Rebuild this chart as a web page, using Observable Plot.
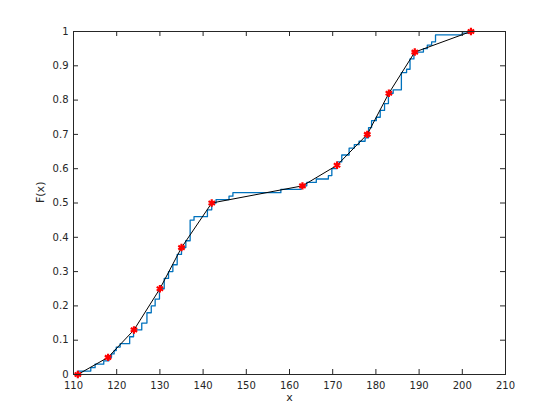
<!DOCTYPE html>
<html>
<head>
<meta charset="utf-8">
<script src="https://cdn.jsdelivr.net/npm/d3@7"></script>
<script src="https://cdn.jsdelivr.net/npm/@observablehq/plot@0.6"></script>
<style>
  html, body { margin: 0; padding: 0; background: #fff; }
  #chart { width: 560px; height: 420px; }
</style>
</head>
<body>
<div id="chart"></div>
<script>
// Empirical CDF (blue stairs): jump locations and levels
const ecdfX = [111, 111, 114, 115, 117, 118.2, 118.8, 119.4, 119.9, 120.8, 123, 123.9, 125.8, 127, 128, 128.9, 129.9, 131, 132, 133, 134, 135, 136, 137, 137.9, 141, 142, 143, 146, 146.9, 158, 162.7, 164, 166.2, 169, 169.8, 171, 172.1, 173.8, 175, 176.1, 177.5, 178.3, 179, 180.1, 181, 182, 182.9, 184, 185.9, 187.1, 187.9, 188.8, 191, 191.9, 192.9, 193.8, 200, 202];
const ecdfF = [0, 0.01, 0.02, 0.03, 0.04, 0.05, 0.06, 0.07, 0.08, 0.09, 0.11, 0.13, 0.15, 0.18, 0.20, 0.22, 0.25, 0.28, 0.30, 0.32, 0.35, 0.37, 0.39, 0.45, 0.46, 0.48, 0.50, 0.51, 0.52, 0.53, 0.54, 0.55, 0.56, 0.57, 0.58, 0.60, 0.62, 0.64, 0.66, 0.67, 0.68, 0.69, 0.72, 0.74, 0.75, 0.77, 0.79, 0.82, 0.83, 0.88, 0.89, 0.92, 0.94, 0.95, 0.96, 0.97, 0.99, 0.995, 1.0];

// Piecewise linear approximation knots (black line + red markers)
const knotX = [111, 118, 124, 130, 135, 142, 163, 171, 178, 183, 189, 202];
const knotF = [0, 0.05, 0.13, 0.25, 0.37, 0.50, 0.55, 0.61, 0.70, 0.82, 0.94, 1.0];

// Axes ticks
const xTicks = [110, 120, 130, 140, 150, 160, 170, 180, 190, 200, 210];
const yTicks = [0, 0.1, 0.2, 0.3, 0.4, 0.5, 0.6, 0.7, 0.8, 0.9, 1];
const yTickLabels = ["0", "0.1", "0.2", "0.3", "0.4", "0.5", "0.6", "0.7", "0.8", "0.9", "1"];
const xLabel = "x";
const yLabel = "F(x)";

const ecdf = ecdfX.map((x, i) => ({x, F: ecdfF[i]}));
const knots = knotX.map((x, i) => ({x, F: knotF[i]}));

const W = 560, H = 420;
const mL = 73, mR = 55, mT = 31, mB = 46;
const pw = W - mL - mR, ph = H - mT - mB;
const axisColor = "#262626";
const tickLen = 5;

const chart = Plot.plot({
  width: W,
  height: H,
  marginLeft: mL,
  marginRight: mR,
  marginTop: mT,
  marginBottom: mB,
  style: {fontFamily: "DejaVu Sans, sans-serif", fontSize: "10px", color: axisColor, background: "#fff"},
  x: {domain: [110, 210], label: null},
  y: {domain: [0, 1], label: null},
  marks: [
    Plot.line(ecdf, {x: "x", y: "F", curve: "step-after", stroke: "#0072BD", strokeWidth: 1.3}),
    Plot.line(knots, {x: "x", y: "F", stroke: "#000", strokeWidth: 1}),
    Plot.dot(knots, {x: "x", y: "F", symbol: "asterisk", r: 3.5, stroke: "#ff0000", strokeWidth: 2.2}),
    Plot.frame({stroke: axisColor, strokeWidth: 1}),
    Plot.ruleX(xTicks, {x: d => d, insetTop: ph - tickLen, stroke: axisColor}),
    Plot.ruleX(xTicks, {x: d => d, insetBottom: ph - tickLen, stroke: axisColor}),
    Plot.ruleY(yTicks, {y: d => d, insetRight: pw - tickLen, stroke: axisColor}),
    Plot.ruleY(yTicks, {y: d => d, insetLeft: pw - tickLen, stroke: axisColor}),
    Plot.axisX({ticks: xTicks, tickSize: 0, tickPadding: 7, label: null, fill: axisColor}),
    Plot.axisY({ticks: yTicks, tickSize: 0, tickPadding: 5, label: null, fill: axisColor,
      tickFormat: d => yTickLabels[yTicks.indexOf(d)] ?? String(d)}),
    Plot.text([xLabel], {frameAnchor: "bottom", dy: 26, text: d => d, fill: axisColor, fontSize: 11}),
    Plot.text([yLabel], {frameAnchor: "left", dx: -33, rotate: -90, text: d => d, fill: axisColor, fontSize: 11})
  ]
});
document.getElementById("chart").appendChild(chart);
</script>
</body>
</html>
